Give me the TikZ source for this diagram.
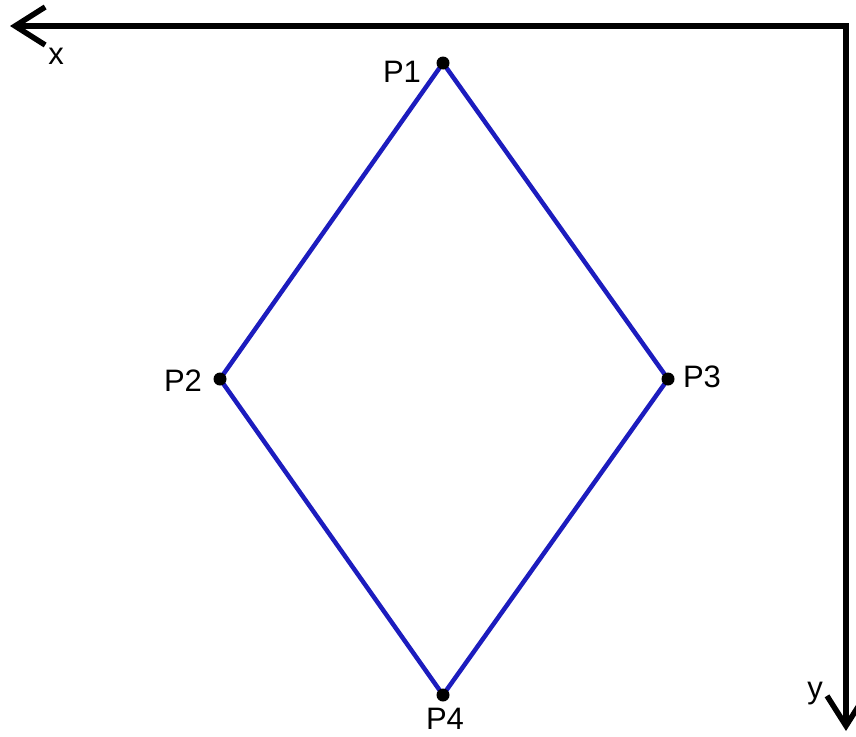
\documentclass[tikz,border=0pt]{standalone}
\usepackage{fontspec}
\setmainfont{Liberation Sans}
\usetikzlibrary{arrows.meta}
\definecolor{edgeblue}{RGB}{28,28,190}
\tikzset{
  axis/.style={line width=5.5pt},
  barb/.tip={Straight Barb[length=30pt,width=38pt]},
  edge/.style={edgeblue,line width=4.5pt,line join=round},
  pt/.style={fill=black},
  lbl/.style={inner sep=0pt,font=\fontsize{31}{33}\selectfont}
}
\begin{document}
\begin{tikzpicture}[x=1pt,y=-1pt]
\useasboundingbox (0,0) rectangle (856,736);
% axes
\coordinate (O) at (846,26); \coordinate (xend) at (10,26); \coordinate (yend) at (846,731);
\draw[axis,barb-barb] (xend) -- (O) -- (yend);
\node[lbl] (xl) at (56,56) {x};
\node[lbl,anchor=base] (yl) at (815,698) {y};
% corners of the rhombus
\coordinate (P1) at (443,63); \coordinate (P2) at (220,379);
\coordinate (P3) at (668,379); \coordinate (P4) at (443,695);
\draw[edge] (P1) -- (P3) -- (P4) -- (P2) -- cycle;
\foreach \p in {P1,P2,P3,P4} \fill[pt] (\p) circle (6.5pt);
\node[lbl] (l1) at (402,72) {P1}; \node[lbl] (l2) at (183,381) {P2};
\node[lbl] (l3) at (702,377) {P3}; \node[lbl] (l4) at (445,719) {P4};
\end{tikzpicture}
\end{document}
